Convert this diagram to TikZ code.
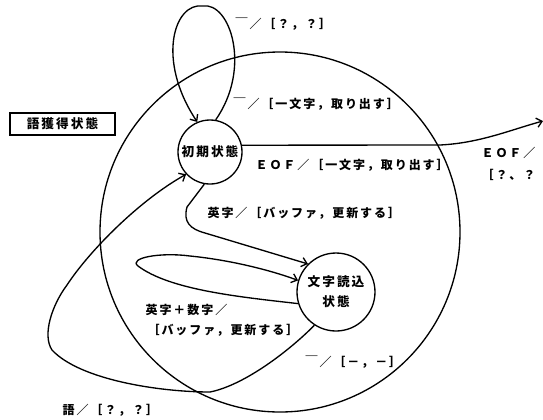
\documentclass[tikz,border=0pt]{standalone}
\usepackage{fontspec}
\usetikzlibrary{arrows.meta}
\newfontfamily\jpfont[LetterSpace=16]{Noto Sans CJK JP}
\begin{document}
\begin{tikzpicture}[x=0.75pt,y=-0.75pt,line width=1pt,>={Straight Barb[length=4pt,width=7pt]},
  st/.style={draw,circle,inner sep=0pt,align=center,font=\jpfont\bfseries\fontsize{9.5}{15}\selectfont},
  lbl/.style={anchor=west,inner sep=0pt,font=\jpfont\bfseries\fontsize{9}{12}\selectfont}]
\useasboundingbox (0,0) rectangle (543,419);

\node[draw,circle,minimum size=270pt] (word) at (280,232) {};
\node[st,minimum size=48pt] (init) at (210,152) {初期状態};
\node[st,minimum size=58.5pt] (read) at (336,292) {文字読込\\状態};
\node[draw,line width=1.2pt,minimum width=78.75pt,minimum height=16.5pt,inner sep=0pt,
  font=\jpfont\bfseries\fontsize{9.5}{12}\selectfont] (box) at (62.5,124) {語獲得状態};

% self loop on the initial state
\draw[->] (init.80) .. controls (252,68) and (230,2) .. (203,6)
  .. controls (174,2) and (156,60) .. (init.113);
\node[lbl] (l1) at (235,24) {￣／［？，？］};
\node[lbl] (l2) at (233,104) {￣／［一文字，取り出す］};

% EOF leaves the picture
\coordinate (eofend) at (543,121);
\draw[->] (init.12) -- (440,145) .. controls (480,143) and (510,130) .. (eofend);
\node[lbl] (l3) at (255,165) {ＥＯＦ／［一文字，取り出す］};
\node[lbl] (l4) at (481,153) {ＥＯＦ／};
\node[lbl] (l5) at (481,175) {［？、？};

% initial -> reading
\draw[->] (init.-100) -- (187,207) .. controls (183,222) and (190,229) .. (205,233) -- (read.135);
\node[lbl] (l6) at (207,213) {英字／［バッファ，更新する］};

% self loop on the reading state
\draw[->] (read.197) .. controls (240,297) and (170,290) .. (138,266)
  .. controls (128,258) and (160,252) .. (190,256)
  .. controls (230,260) and (270,270) .. (read.163);
\node[lbl] (l7) at (145,310) {英字＋数字／};
\node[lbl] (l8) at (147,330) {［バッファ，更新する］};
\node[lbl] (l9) at (305,362) {￣／［－，－］};

% reading -> initial
\draw[->] (read.237) .. controls (290,350) and (245,385) .. (210,392)
  .. controls (160,392) and (80,380) .. (52,350)
  .. controls (42,335) and (52,305) .. (67,285)
  .. controls (90,250) and (140,200) .. (init.223);
\node[lbl] (l10) at (62,410) {語／［？，？］};
\end{tikzpicture}
\end{document}
